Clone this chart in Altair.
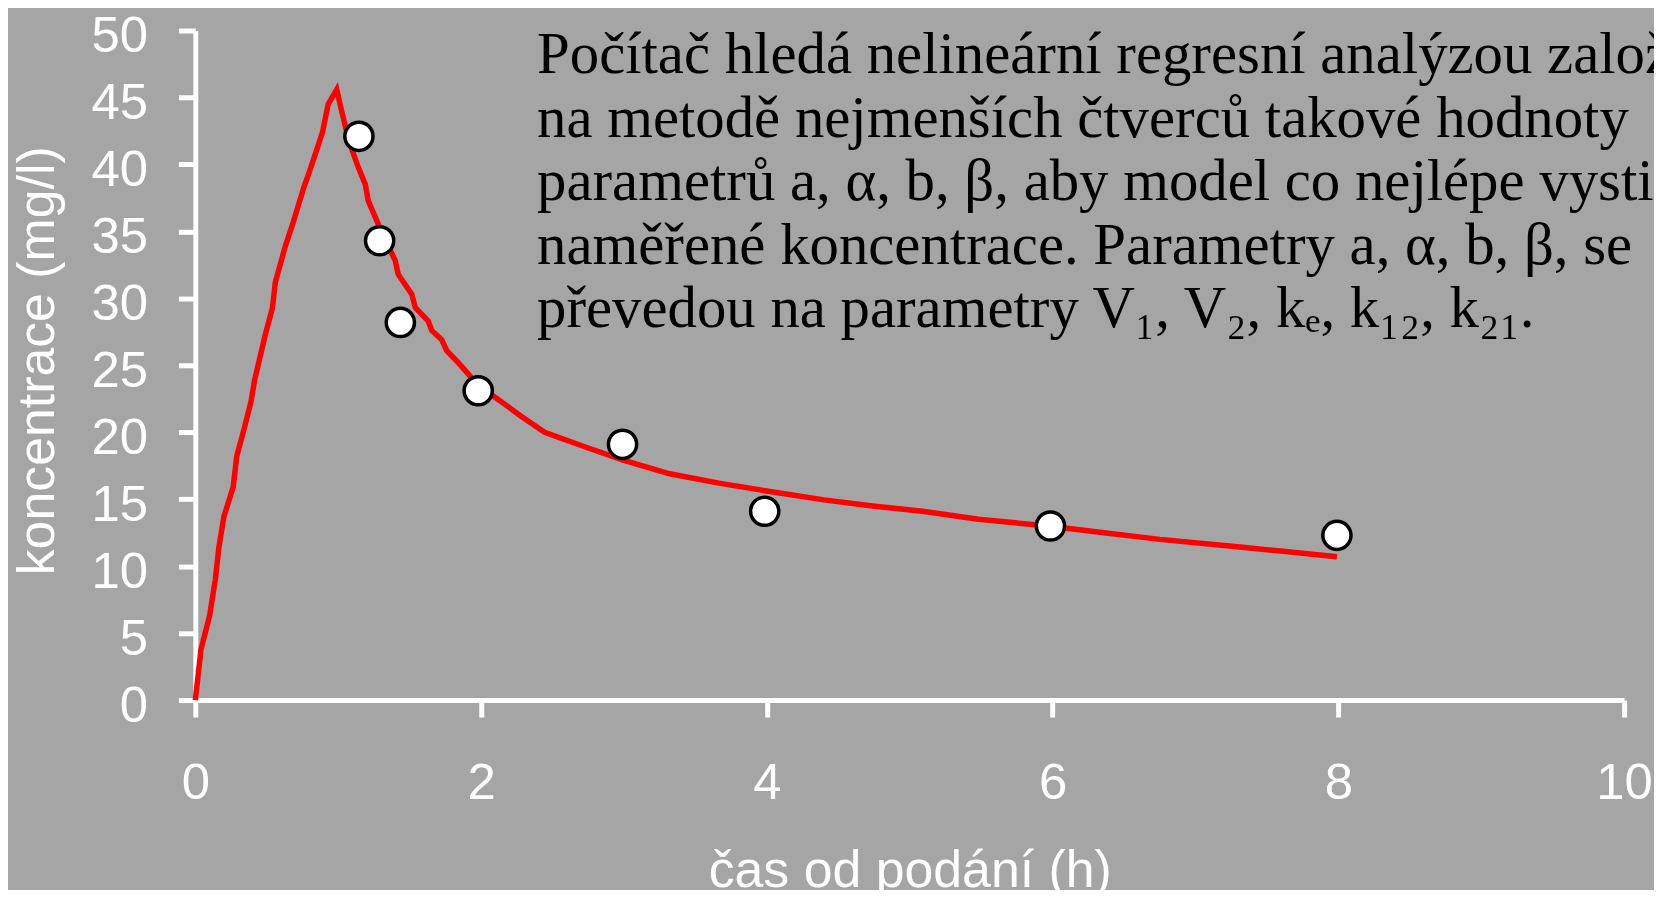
import altair as alt
import pandas as pd

# fitted model curve (time in h, concentration in mg/l)
curve_t = [0, 0.04, 0.10, 0.14, 0.165, 0.20, 0.265, 0.29, 0.34, 0.39,
           0.415, 0.49, 0.54, 0.56, 0.63, 0.68, 0.76, 0.80, 0.89, 0.93,
           0.99, 1.015, 1.06, 1.10, 1.14, 1.19, 1.21, 1.27, 1.31, 1.40,
           1.42, 1.515, 1.54, 1.63, 1.655, 1.725, 1.76, 1.84, 1.89, 1.97,
           2.10, 2.165, 2.28, 2.445, 2.73, 3.0, 3.32, 3.665, 4.01, 4.40,
           4.74, 5.09, 5.48, 5.97, 6.36, 6.75, 7.24, 7.63, 7.99]
curve_c = [0, 3.8, 6.3, 9.0, 11.4, 13.7, 15.9, 18.2, 20.2, 22.3,
           23.9, 27.3, 29.3, 31.2, 33.9, 35.5, 38.3, 39.5, 42.4, 44.5,
           45.6, 44.4, 42.4, 41.0, 39.8, 38.5, 37.3, 35.8, 34.8, 32.8,
           31.8, 30.3, 29.3, 28.3, 27.6, 26.9, 26.1, 25.2, 24.6, 23.6,
           22.6, 22.1, 21.2, 20.0, 18.9, 17.9, 16.9, 16.2, 15.6, 14.95,
           14.5, 14.1, 13.5, 13.0, 12.5, 12.0, 11.5, 11.1, 10.7]

# measured concentrations
meas_t = [1.145, 1.29, 1.435, 1.98, 2.99, 3.985, 5.985, 7.99]
meas_c = [42.1, 34.3, 28.2, 23.1, 19.1, 14.1, 13.0, 12.3]

x_ticks = [0, 2, 4, 6, 8, 10]
y_ticks = [0, 5, 10, 15, 20, 25, 30, 35, 40, 45, 50]

note_lines = [
    "Počítač hledá nelineární regresní analýzou založenou",
    "na metodě nejmenších čtverců takové hodnoty",
    "parametrů a, α, b, β, aby model co nejlépe vystihl",
    "naměřené koncentrace. Parametry a, α, b, β, se",
    "převedou na parametry V₁, V₂, kₑ, k₁₂, k₂₁.",
]

x_title = "čas od podání (h)"
y_title = "koncentrace (mg/l)"

curve_df = pd.DataFrame({"t": curve_t, "c": curve_c, "i": range(len(curve_t))})
meas_df = pd.DataFrame({"t": meas_t, "c": meas_c})

SANS = "Liberation Sans"
W, H = 1434, 672

x_scale = alt.Scale(domain=[0, 10], nice=False, zero=True)
y_scale = alt.Scale(domain=[0, 50], nice=False, zero=True)

x_axis = alt.Axis(
    values=x_ticks, format="d", grid=False,
    domainColor="white", domainWidth=5,
    tickColor="white", tickWidth=5, tickSize=17,
    labelColor="white", labelFont=SANS, labelFontSize=51, labelPadding=42,
    labelFlush=False, labelOverlap=False,
    title=x_title, titleColor="white", titleFont=SANS, titleFontSize=52,
    titleFontWeight="normal", titleX=W / 2, titleY=187,
    titleAlign="center", titleBaseline="alphabetic",
)
y_axis = alt.Axis(
    values=y_ticks, format="d", grid=False,
    domainColor="white", domainWidth=5,
    tickColor="white", tickWidth=5, tickSize=17,
    labelColor="white", labelFont=SANS, labelFontSize=51, labelPadding=31,
    labelOffset=6, labelFlush=False, labelOverlap=False,
    title=y_title, titleColor="white", titleFont=SANS, titleFontSize=52,
    titleFontWeight="normal", titleAngle=270, titleX=-142, titleY=331,
    titleAlign="center", titleBaseline="alphabetic",
)

line = alt.Chart(curve_df).mark_line(color="#ff0000", strokeWidth=5.5).encode(
    x=alt.X("t:Q", scale=x_scale, axis=x_axis),
    y=alt.Y("c:Q", scale=y_scale, axis=y_axis),
    order="i:Q",
)

points = alt.Chart(meas_df).mark_point(
    shape="circle", filled=True, fill="white", stroke="black",
    strokeWidth=3.5, size=800, opacity=1,
).encode(
    x=alt.X("t:Q", scale=x_scale),
    y=alt.Y("c:Q", scale=y_scale),
)

note = alt.Chart(pd.DataFrame({"k": [0]})).mark_text(
    text=note_lines, align="left", baseline="alphabetic",
    font="Liberation Serif", fontSize=59, lineHeight=63.75, color="black",
).encode(x=alt.value(343), y=alt.value(43))

chart = alt.layer(line, points, note).properties(
    width=W, height=H,
    padding={"left": 188, "top": 21, "right": 30, "bottom": 189},
    autosize=alt.AutoSizeParams(type="none"),
    background="#a5a5a5",
).configure_view(stroke=None)

chart.save("out.html", embed_options={"renderer": "svg", "actions": False})
